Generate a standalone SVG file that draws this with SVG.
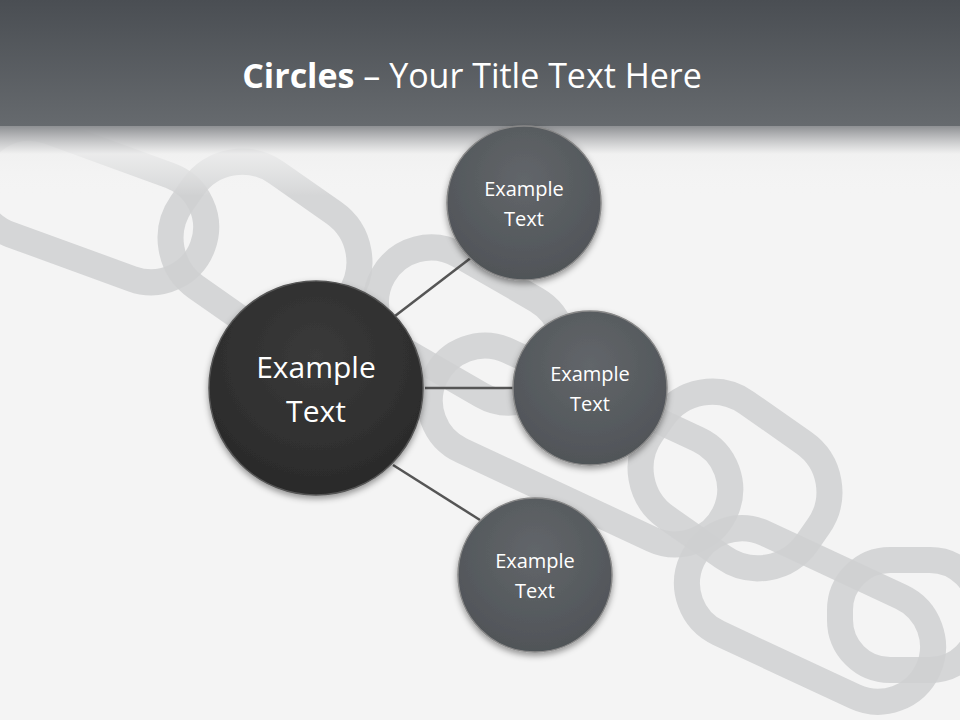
<svg xmlns="http://www.w3.org/2000/svg" width="960" height="720" viewBox="0 0 960 720">
<defs>
<linearGradient id="hdr" x1="0" y1="0" x2="0" y2="1">
<stop offset="0" stop-color="#4a4e53"/><stop offset="1" stop-color="#666a6e"/>
</linearGradient>
<linearGradient id="fade" x1="0" y1="0" x2="0" y2="1">
<stop offset="0" stop-color="#8e9093" stop-opacity="1"/><stop offset="0.4" stop-color="#f0f0f0" stop-opacity="0.8"/><stop offset="1" stop-color="#f4f4f4" stop-opacity="0"/>
</linearGradient>
<radialGradient id="big" cx="0.5" cy="0.35" r="0.65"><stop offset="0" stop-color="#3a3a3a"/><stop offset="1" stop-color="#2a2a2a"/></radialGradient>
<radialGradient id="sm" cx="0.5" cy="0.35" r="0.65"><stop offset="0" stop-color="#62666a"/><stop offset="1" stop-color="#505458"/></radialGradient>
<filter id="sh" x="-20%" y="-20%" width="140%" height="140%"><feDropShadow dx="0" dy="3" stdDeviation="3" flood-opacity="0.4"/></filter>
</defs>
<style>
.link{fill:none;stroke:#cfd0d1;stroke-width:26;opacity:0.85}
.lbl{font-family:"Open Sans","Liberation Sans",sans-serif;fill:#fff;text-anchor:middle}
.con{stroke:#555;stroke-width:2.5}
</style>
<rect width="960" height="720" fill="#f4f4f4"/>
<g id="chain">
<rect x="-30" y="150" width="240" height="110" rx="55" class="link" transform="rotate(20 90 205)"/>
<rect x="170" y="180" width="190" height="140" rx="60" class="link" transform="rotate(35 265 250)"/>
<rect x="370" y="270" width="200" height="110" rx="55" class="link" transform="rotate(30 470 325)"/>
<rect x="420" y="390" width="320" height="110" rx="55" class="link" transform="rotate(25 580 445)"/>
<rect x="640" y="410" width="190" height="140" rx="60" class="link" transform="rotate(35 735 480)"/>
<rect x="680" y="560" width="260" height="110" rx="55" class="link" transform="rotate(25 810 615)"/>
<rect x="840" y="560" width="140" height="110" rx="50" class="link"/>
</g>
<rect width="960" height="126" fill="url(#hdr)"/>
<rect y="126" width="960" height="70" fill="url(#fade)"/>
<text x="472" y="88" font-family="'Open Sans','Liberation Sans',sans-serif" font-size="34" fill="#fff" text-anchor="middle"><tspan font-weight="bold">Circles</tspan> – Your Title Text Here</text>
<g id="connectors">
<line class="con" x1="395" y1="316" x2="472" y2="257"/>
<line class="con" x1="425" y1="388" x2="513" y2="388"/>
<line class="con" x1="393" y1="465" x2="480" y2="520"/>
</g>
<g id="center"><circle cx="316" cy="388" r="107" fill="url(#big)" stroke="#555" stroke-width="1.5" filter="url(#sh)"/>
<text class="lbl" x="316" y="378" font-size="30">Example</text><text class="lbl" x="316" y="422" font-size="30">Text</text></g>
<g id="n1"><circle cx="524" cy="203" r="77" fill="url(#sm)" stroke="#888" stroke-width="1.5" filter="url(#sh)"/>
<text class="lbl" x="524" y="196" font-size="20">Example</text><text class="lbl" x="524" y="226" font-size="20">Text</text></g>
<g id="n2"><circle cx="590" cy="388" r="77" fill="url(#sm)" stroke="#888" stroke-width="1.5" filter="url(#sh)"/>
<text class="lbl" x="590" y="381" font-size="20">Example</text><text class="lbl" x="590" y="411" font-size="20">Text</text></g>
<g id="n3"><circle cx="535" cy="575" r="77" fill="url(#sm)" stroke="#888" stroke-width="1.5" filter="url(#sh)"/>
<text class="lbl" x="535" y="568" font-size="20">Example</text><text class="lbl" x="535" y="598" font-size="20">Text</text></g>
</svg>
